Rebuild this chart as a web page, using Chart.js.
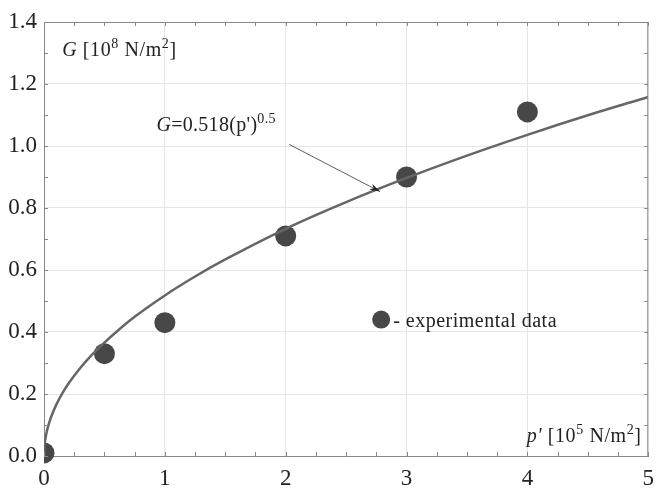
<!DOCTYPE html>
<html>
<head>
<meta charset="utf-8">
<script src="https://cdn.jsdelivr.net/npm/chart.js@4.4.0/dist/chart.umd.min.js"></script>
<style>
    html, body { margin: 0; padding: 0; background: #fff; }
    #wrap { width: 663px; height: 488px; position: relative; }
</style>
</head>
<body>
<div id="wrap"><canvas id="chart"></canvas></div>
<script>
// Measured points
const pressure = [0, 0.5, 1, 2, 3, 4];
const modulus = [0.01, 0.33, 0.43, 0.71, 0.90, 1.11];

// Fitted curve
const fitX = [0, 0.005, 0.01, 0.02, 0.03, 0.05, 0.07, 0.1, 0.15, 0.2, 0.3, 0.4, 0.5, 0.6, 0.75, 1, 1.25, 1.5, 2, 2.5, 3, 3.5, 4, 4.5, 5];
const fitY = [0, 0.037, 0.052, 0.073, 0.090, 0.116, 0.137, 0.164, 0.201, 0.232, 0.284, 0.328, 0.366, 0.401, 0.449, 0.518, 0.579, 0.634, 0.733, 0.819, 0.897, 0.969, 1.036, 1.099, 1.158];

const xTicks = [0, 1, 2, 3, 4, 5];
const yTicks = [0, 0.2, 0.4, 0.6, 0.8, 1.0, 1.2, 1.4];

const SERIF = '"Liberation Serif", "Times New Roman", serif';
const DOT = '#474747';

// draws a run of text pieces, some italic / superscript
function richText(ctx, x, y, parts, size, align, spacing) {
    const fontOf = p => (p.it ? 'italic ' : '') + (p.sup ? size * 0.7 : size) + 'px ' + SERIF;
    ctx.letterSpacing = (spacing || 0) + 'px';
    let total = 0;
    parts.forEach(p => { ctx.font = fontOf(p); total += ctx.measureText(p.t).width; });
    let cx = align === 'right' ? x - total : x;
    ctx.textBaseline = 'alphabetic';
    ctx.textAlign = 'left';
    parts.forEach(p => {
        ctx.font = fontOf(p);
        ctx.fillText(p.t, cx, p.sup ? y - size * 0.4 : y);
        cx += ctx.measureText(p.t).width;
    });
    ctx.letterSpacing = '0px';
}

const decorations = {
    id: 'decorations',
    afterDatasetsDraw(chart) {
        const { ctx, chartArea: a, scales: { x, y } } = chart;
        ctx.save();

        // inward ticks on all four sides
        ctx.strokeStyle = '#888';
        ctx.lineWidth = 1;
        ctx.beginPath();
        for (let v = 0; v <= 5.0001; v += 0.25) {
            const px = Math.round(x.getPixelForValue(v)) + 0.5;
            ctx.moveTo(px, a.bottom); ctx.lineTo(px, a.bottom - 4);
            ctx.moveTo(px, a.top); ctx.lineTo(px, a.top + 4);
        }
        for (let v = 0; v <= 1.4001; v += 0.1) {
            const py = Math.round(y.getPixelForValue(v)) + 0.5;
            ctx.moveTo(a.left, py); ctx.lineTo(a.left + 4, py);
            ctx.moveTo(a.right, py); ctx.lineTo(a.right - 4, py);
        }
        ctx.stroke();

        ctx.fillStyle = '#222';

        // axis titles inside the plot
        richText(ctx, x.getPixelForValue(0.15), y.getPixelForValue(1.29), [
            { t: 'G', it: true }, { t: ' [10' }, { t: '8', sup: true }, { t: ' N/m' }, { t: '2', sup: true }, { t: ']' }
        ], 20, 'left', 0.6);
        richText(ctx, x.getPixelForValue(4.945), y.getPixelForValue(0.045), [
            { t: 'p\'', it: true }, { t: ' [10' }, { t: '5', sup: true }, { t: ' N/m' }, { t: '2', sup: true }, { t: ']' }
        ], 20, 'right', 0.6);

        // fit equation and arrow
        richText(ctx, x.getPixelForValue(0.93), y.getPixelForValue(1.05), [
            { t: 'G', it: true }, { t: '=0.518(p\')' }, { t: '0.5', sup: true }
        ], 20, 'left', 0.3);

        const x0 = x.getPixelForValue(2.03), y0 = y.getPixelForValue(1.005);
        const x1 = x.getPixelForValue(2.78), y1 = y.getPixelForValue(0.853);
        ctx.strokeStyle = '#333';
        ctx.lineWidth = 0.8;
        ctx.beginPath();
        ctx.moveTo(x0, y0); ctx.lineTo(x1, y1);
        ctx.stroke();
        const ang = Math.atan2(y1 - y0, x1 - x0);
        ctx.fillStyle = '#222';
        ctx.beginPath();
        ctx.moveTo(x1, y1);
        ctx.lineTo(x1 - 11 * Math.cos(ang - 0.3), y1 - 11 * Math.sin(ang - 0.3));
        ctx.lineTo(x1 - 7 * Math.cos(ang), y1 - 7 * Math.sin(ang));
        ctx.lineTo(x1 - 11 * Math.cos(ang + 0.3), y1 - 11 * Math.sin(ang + 0.3));
        ctx.closePath();
        ctx.fill();

        // legend entry
        const lx = x.getPixelForValue(2.79), ly = y.getPixelForValue(0.44);
        ctx.fillStyle = DOT;
        ctx.beginPath();
        ctx.arc(lx, ly, 9, 0, Math.PI * 2);
        ctx.fill();
        ctx.fillStyle = '#222';
        richText(ctx, lx + 12, ly + 7, [{ t: '- experimental data' }], 20, 'left', 0.5);

        ctx.restore();
    }
};

new Chart(document.getElementById('chart'), {
    type: 'scatter',
    data: {
        datasets: [
            {
                label: 'fit',
                data: fitX.map((v, i) => ({ x: v, y: fitY[i] })),
                showLine: true,
                borderColor: '#666',
                borderWidth: 2.5,
                pointRadius: 0,
                cubicInterpolationMode: 'monotone',
                clip: 0
            },
            {
                label: 'experimental data',
                data: pressure.map((v, i) => ({ x: v, y: modulus[i] })),
                backgroundColor: DOT,
                borderColor: DOT,
                pointRadius: 10.5,
                pointBorderWidth: 0,
                clip: { left: 0, top: false, right: false, bottom: 8 }
            }
        ]
    },
    options: {
        responsive: true,
        maintainAspectRatio: false,
        animation: false,
        layout: { padding: { top: 22, right: 5, left: 0, bottom: 0 } },
        plugins: { legend: { display: false }, tooltip: { enabled: false } },
        scales: {
            x: {
                type: 'linear',
                min: 0, max: 5,
                afterFit: s => { s.height = 32; },
                afterBuildTicks: s => { s.ticks = xTicks.map(v => ({ value: v })); },
                ticks: { color: '#222', font: { family: SERIF, size: 23 }, padding: 9, callback: v => String(v) },
                grid: { color: '#e6e6e6', lineWidth: 1, drawTicks: false },
                border: { color: '#888', width: 1 }
            },
            y: {
                type: 'linear',
                min: 0, max: 1.4,
                afterFit: s => { s.width = 44; },
                afterBuildTicks: s => { s.ticks = yTicks.map(v => ({ value: v })); },
                ticks: { color: '#222', font: { family: SERIF, size: 23 }, padding: 7, callback: v => v.toFixed(1) },
                grid: { color: '#e6e6e6', lineWidth: 1, drawTicks: false },
                border: { color: '#888', width: 1 }
            }
        }
    },
    plugins: [decorations, {
        id: 'frame',
        afterDraw(chart) {
            const { ctx, chartArea: a } = chart;
            ctx.save();
            ctx.strokeStyle = '#888';
            ctx.lineWidth = 1;
            ctx.beginPath();
            ctx.moveTo(a.left, a.top + 0.5); ctx.lineTo(a.right, a.top + 0.5);
            ctx.moveTo(a.right - 0.5, a.top); ctx.lineTo(a.right - 0.5, a.bottom);
            ctx.stroke();
            ctx.restore();
        }
    }]
});
</script>
</body>
</html>
